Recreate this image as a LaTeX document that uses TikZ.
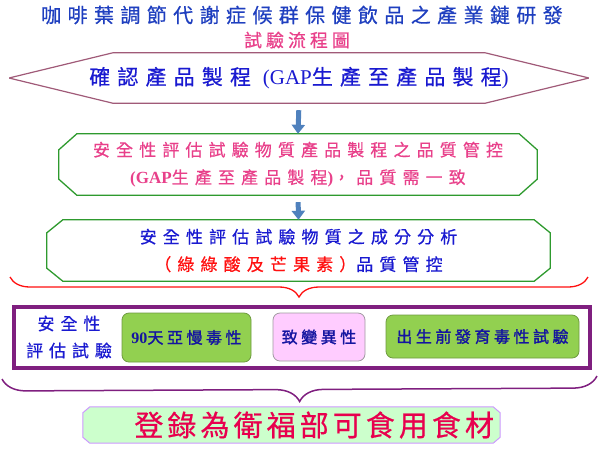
\documentclass[tikz,border=0pt]{standalone}
\usepackage{fontspec}
\newfontfamily\cjk{Noto Sans CJK TC}
\newfontfamily\latinserif{Liberation Serif}
\usetikzlibrary{decorations.pathreplacing,arrows.meta,backgrounds}
\definecolor{titleblue}{HTML}{1F3FBF}
\definecolor{flowpink}{HTML}{E8408A}
\definecolor{hexline}{HTML}{A05A78}
\definecolor{flowblue}{HTML}{1A1AD0}
\definecolor{octgreen}{HTML}{2E9A2E}
\definecolor{flowred}{HTML}{FF1010}
\definecolor{testpurple}{HTML}{7F1F7F}
\definecolor{boxgreen}{HTML}{92D050}
\definecolor{boxgreenline}{HTML}{6E9A40}
\definecolor{boxpink}{HTML}{FFCCFF}
\definecolor{boxpinkline}{HTML}{A09AA0}
\definecolor{darkblue}{HTML}{1414A0}
\definecolor{foodgreen}{HTML}{CCFFCC}
\definecolor{foodline}{HTML}{CC99FF}
\definecolor{foodred}{HTML}{E8004E}
\definecolor{arrowblue}{HTML}{4F81BD}
\newcommand{\cjkfont}[3]{\cjk\addfontfeature{LetterSpace=#3,FakeBold=0.6}\fontsize{#1}{#2}\selectfont}
% corner-cut frame round a node: node, cut in x, cut in y, style
\newcommand{\cutframe}[4]{%
  \begin{scope}[on background layer]
    \draw[#4] ([xshift=#2]#1.north west) -- ([xshift=-#2]#1.north east)
      -- ([yshift=-#3]#1.north east) -- ([yshift=#3]#1.south east)
      -- ([xshift=-#2]#1.south east) -- ([xshift=#2]#1.south west)
      -- ([yshift=#3]#1.south west) -- ([yshift=-#3]#1.north west) -- cycle;
  \end{scope}}
\tikzset{%
  flowtext/.style  = {align=center, inner sep=0pt},%
  heading/.style   = {flowtext, text=titleblue, font=\cjkfont{20}{24}{32}},%
  subhead/.style   = {flowtext, text=flowpink, font=\cjkfont{18}{22}{22}},%
  hexbox/.style    = {flowtext, text=flowblue, font=\cjkfont{21}{25}{34}},%
  octbox/.style    = {flowtext, font=\cjkfont{17}{27.5}{36}},%
  testframe/.style = {rectangle, draw=testpurple, line width=4pt,%
                      minimum width=576pt, minimum height=61pt},%
  testbox/.style   = {rectangle, rounded corners=7pt, line width=0.8pt, inner sep=1pt,%
                      text=darkblue, font=\cjkfont{16}{20}{22}\addfontfeature{FakeBold=1.6}},%
  greenbox/.style  = {testbox, fill=boxgreen, draw=boxgreenline},%
  pinkbox/.style   = {testbox, fill=boxpink, draw=boxpinkline},%
  finalbox/.style  = {flowtext, text=foodred, font=\cjkfont{29}{32}{14}},%
  flowarrow/.style = {draw=arrowblue, line width=5pt, -{Triangle[width=13pt,length=9pt]},%
                      shorten <=7pt},%
  bracepath/.style = {decorate, decoration={brace, mirror, amplitude=#1}}%
}
\begin{document}
\begin{tikzpicture}[x=1pt,y=-1pt]
	\useasboundingbox (0,0) rectangle (601,451);
	\node [heading] (title) at (302,15) {咖啡葉調節代謝症候群保健飲品之產業鏈研發};
	\node [subhead] (subtitle) at (297,40) {試驗流程圖};
	\node [hexbox, minimum width=578pt, minimum height=50pt] (prod) at (299,78)
		{確認產品製程 {\latinserif (GAP}生產至產品製程{\latinserif )}};
	\cutframe{prod}{103pt}{25pt}{hexline, line width=1.2pt}
	\node [octbox, text=flowpink, minimum width=478pt, minimum height=61pt] (qc) at (298,164.5)
		{安全性評估試驗物質產品製程之品質管控\\{\latinserif\bfseries (GAP}生產至產品製程{\latinserif\bfseries )}，品質需一致};
	\cutframe{qc}{18pt}{16pt}{octgreen, line width=1.3pt}
	\node [octbox, text=flowblue, minimum width=503pt, minimum height=61pt] (comp) at (298.5,250.5)
		{安全性評估試驗物質之成分分析\\{\color{flowred}（綠綠酸及芒果素）}品質管控};
	\cutframe{comp}{16pt}{13pt}{octgreen, line width=1.3pt}
	\draw [flowarrow] (prod.south) -- (qc.north);
	\draw [flowarrow] (qc.south) -- (comp.north);
	\coordinate (redL) at (10,277);
	\coordinate (redR) at (588,277);
	\draw [flowred, line width=1.3pt, bracepath=20pt] (redL) -- (redR);
	\node [testframe] (tests) at (302,337.5) {};
	\node [flowtext, text=flowblue, font=\cjkfont{17}{27}{35}] (testlabel) at (69,337) {安全性\\評估試驗};
	\node [greenbox, minimum width=129pt, minimum height=49pt] (sub90) at (186.5,337.5)
		{{\latinserif\bfseries 90}天亞慢毒性};
	\node [pinkbox, minimum width=92pt, minimum height=48pt] (mutagen) at (319,337) {致變異性};
	\node [greenbox, minimum width=193pt, minimum height=43pt] (prenatal) at (482.5,336.5)
		{出生前發育毒性試驗};
	\coordinate (purpleL) at (2,379);
	\coordinate (purpleR) at (597,376);
	\draw [testpurple, line width=1.5pt, bracepath=24pt] (purpleL) -- (purpleR);
	\node [finalbox, minimum width=417pt, minimum height=36pt, text width=405pt, align=right]
		(food) at (291.5,425) {登錄為衛福部可食用食材};
	\cutframe{food}{7pt}{6pt}{foodline, fill=foodgreen, line width=1pt}
\end{tikzpicture}
\end{document}
